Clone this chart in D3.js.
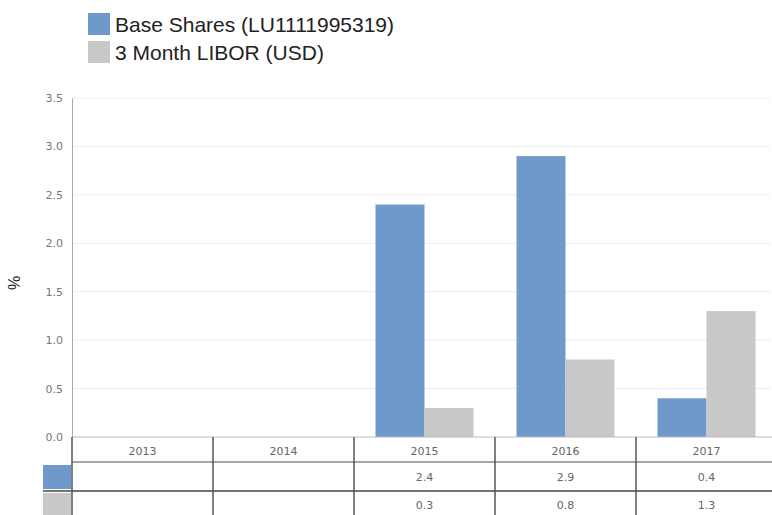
<!DOCTYPE html>
<html>
<head>
<meta charset="utf-8">
<script src="https://cdn.jsdelivr.net/npm/d3@7"></script>
<style>
  body { margin: 0; background: #fff; }
  svg { display: block; font-family: "Liberation Sans", Arial, sans-serif; }
</style>
</head>
<body>
<svg id="chart" width="772" height="515"></svg>
<script>
// chart data
const years = ["2013", "2014", "2015", "2016", "2017"];
const baseShares = [null, null, 2.4, 2.9, 0.4];
const libor = [null, null, 0.3, 0.8, 1.3];
const seriesNames = ["Base Shares (LU1111995319)", "3 Month LIBOR (USD)"];
const yTicks = [0, 0.5, 1.0, 1.5, 2.0, 2.5, 3.0, 3.5];

const palette = ["#7099cb", "#c8c8c8"];

const svg = d3.select("#chart");
const plotLeft = 72, plotRight = 777, plotTop = 98, plotBottom = 437;

const x = d3.scaleBand().domain(years).range([plotLeft, plotRight]).padding(0);
const sub = d3.scaleBand().domain([0, 1]).range([0, 98]);
const y = d3.scaleLinear().domain([0, 3.5]).range([plotBottom, plotTop]);

// legend
const legend = svg.append("g");
seriesNames.forEach((name, i) => {
  legend.append("rect")
    .attr("x", 88).attr("y", 13 + i * 28)
    .attr("width", 22).attr("height", 22)
    .attr("fill", palette[i]);
  legend.append("text")
    .attr("x", 115).attr("y", 32 + i * 28)
    .attr("font-size", 21)
    .attr("fill", "#222")
    .text(name);
});

// gridlines
svg.append("g")
  .selectAll("line")
  .data(yTicks.filter(d => d > 0))
  .join("line")
  .attr("x1", plotLeft).attr("x2", 770)
  .attr("y1", d => y(d)).attr("y2", d => y(d))
  .attr("stroke", "#ececec");

// y axis
const yAxis = svg.append("g")
  .attr("transform", `translate(${plotLeft},0)`)
  .call(d3.axisLeft(y).tickValues(yTicks).tickFormat(d3.format(".1f")).tickSize(0).tickPadding(9));
yAxis.select(".domain").attr("stroke", "#aaa");
yAxis.selectAll("text").attr("font-size", 11).attr("fill", "#777")
  .attr("font-family", "'DejaVu Sans', sans-serif");

svg.append("text")
  .attr("transform", "translate(20,283) rotate(-90)")
  .attr("text-anchor", "middle")
  .attr("font-size", 16)
  .attr("fill", "#222")
  .text("%");

// bars
const rows = [baseShares, libor];
rows.forEach((vals, s) => {
  svg.append("g")
    .selectAll("rect")
    .data(years.map((yr, i) => ({ yr, v: vals[i] })).filter(d => d.v != null))
    .join("rect")
    .attr("x", d => x(d.yr) + (x.bandwidth() - 98) / 2 + sub(s))
    .attr("y", d => y(d.v))
    .attr("width", sub.bandwidth())
    .attr("height", d => plotBottom - y(d.v))
    .attr("fill", palette[s]);
});

// data table under the chart
const table = svg.append("g");

table.append("line")
  .attr("x1", plotLeft).attr("x2", 772).attr("y1", plotBottom).attr("y2", plotBottom)
  .attr("stroke", "#bbb");
table.append("line")
  .attr("x1", plotLeft).attr("x2", 772).attr("y1", 462).attr("y2", 462)
  .attr("stroke", "#888").attr("stroke-width", 1.5);
table.append("line")
  .attr("x1", 43).attr("x2", 772).attr("y1", 491).attr("y2", 491)
  .attr("stroke", "#444").attr("stroke-width", 1.5);

// swatches left of the table rows
table.append("rect").attr("x", 43).attr("y", 465).attr("width", 28).attr("height", 24).attr("fill", palette[0]);
table.append("rect").attr("x", 43).attr("y", 493).attr("width", 28).attr("height", 22).attr("fill", palette[1]);

// column dividers
table.selectAll(".div")
  .data(years)
  .join("line")
  .attr("x1", d => x(d)).attr("x2", d => x(d))
  .attr("y1", plotBottom).attr("y2", 515)
  .attr("stroke", "#555").attr("stroke-width", 1.5);

const fmt = d3.format(".1f");
const cellText = (vals, ty) => table.append("g")
  .selectAll("text")
  .data(years.map((yr, i) => ({ yr, v: vals[i] })))
  .join("text")
  .attr("x", d => x(d.yr) + x.bandwidth() / 2)
  .attr("y", ty)
  .attr("text-anchor", "middle")
  .attr("font-size", 11)
  .attr("font-family", "'DejaVu Sans', sans-serif")
  .attr("fill", "#666")
  .text(d => d.v == null ? "" : (typeof d.v === "number" ? fmt(d.v) : d.v));

cellText(years, 455);
cellText(baseShares, 481);
cellText(libor, 509);
</script>
</body>
</html>
